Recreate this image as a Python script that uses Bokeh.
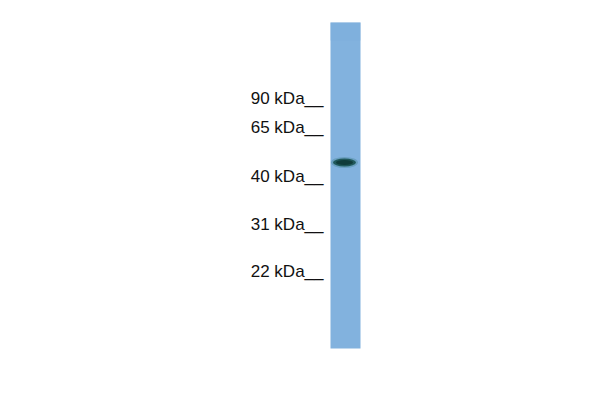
from bokeh.core.properties import value
from bokeh.embed import file_html
from bokeh.models import ColumnDataSource, Range1d
from bokeh.plotting import figure
from bokeh.resources import INLINE

# marker ladder (kDa) and where each one runs on the blot (px from top)
marker_labels = ["90 kDa__", "65 kDa__", "40 kDa__", "31 kDa__", "22 kDa__"]
marker_pos = [98, 127, 176, 224, 271]

# the single lane and its band
lane_x = [345]
lane_top = [22]
lane_bottom = [348]
band_x = [344]
band_pos = [162]

p = figure(width=584, height=384, output_backend="svg", toolbar_location=None,
           x_range=Range1d(0, 584), y_range=Range1d(384, 0),
           min_border=0, outline_line_color=None)
p.axis.visible = False
p.grid.visible = False
p.background_fill_color = "white"
p.border_fill_color = "white"

# lane
p.vbar(x=lane_x, width=30, top=lane_top, bottom=lane_bottom,
       fill_color="#82b2de", line_color=None)
p.vbar(x=lane_x, width=30, top=lane_top, bottom=[40],
       fill_color="#7caedb", line_color=None, fill_alpha=0.5)

# band, a few soft layers
p.ellipse(x=band_x, y=band_pos, width=27, height=11,
          fill_color="#3b7a86", fill_alpha=0.35, line_color=None)
p.ellipse(x=band_x, y=band_pos, width=23, height=8,
          fill_color="#1c5454", fill_alpha=0.95, line_color=None)
p.ellipse(x=band_x, y=band_pos, width=17, height=5,
          fill_color="#103c3a", line_color=None)

src = ColumnDataSource(dict(x=[323] * len(marker_pos), y=marker_pos,
                            label=marker_labels))
p.text(x="x", y="y", text="label", source=src, text_align="right",
       text_baseline="middle", text_font=value("Liberation Sans"),
       text_font_size="17px", text_color="#111111")

open("out.html", "w").write(file_html(p, INLINE))
